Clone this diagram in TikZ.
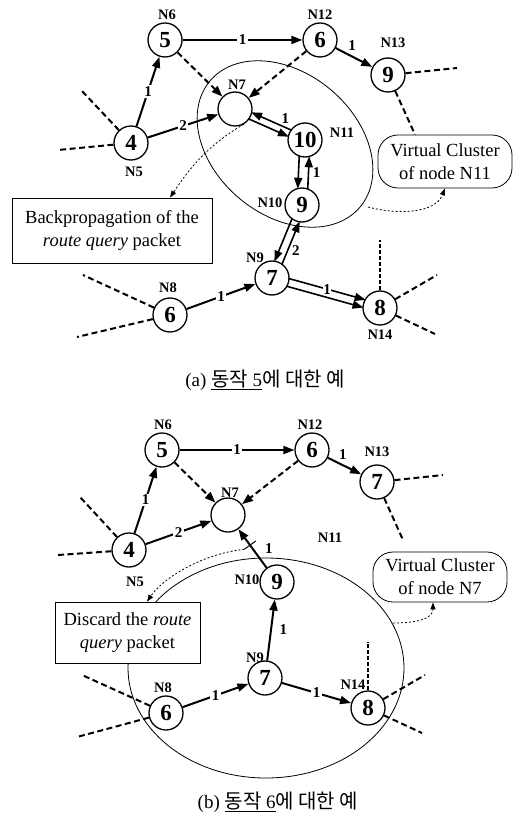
\documentclass[tikz,border=0pt]{standalone}
\usepackage{fontspec}
\setmainfont{Liberation Serif}
\newfontfamily\krfont{Noto Sans CJK KR}
\newcommand\krs{\krfont\fontsize{20}{22}\selectfont}
\usetikzlibrary{arrows.meta,calc}
\begin{document}
\begin{tikzpicture}[x=1pt,y=-1pt,
  nd/.style={circle,draw,line width=1.3pt,minimum size=34pt,inner sep=0pt,font=\fontsize{23}{23}\bfseries\selectfont},
  nl/.style={font=\fontsize{14.5}{14.5}\bfseries\selectfont,inner sep=0pt},
  el/.style={font=\fontsize{15}{15}\bfseries\selectfont,inner sep=1.5pt,fill=white},
  tip/.style={-{Triangle[length=11pt,width=8pt]}},
  sol/.style={line width=2pt,tip},
  dsh/.style={line width=2pt,dash pattern=on 6pt off 3.5pt},
  fdsh/.style={line width=1.6pt,dash pattern=on 4pt off 2pt},
  dsharr/.style={dsh,tip},
  dbl/.style={line width=1.6pt,tip,shorten <=16pt,shorten >=16pt},
  dotarr/.style={line width=0.8pt,dash pattern=on 2pt off 2pt,-{Triangle[length=7pt,width=5pt]}},
  txtbox/.style={draw,line width=0.8pt,fill=white,align=center,font=\fontsize{18.5}{23}\selectfont},
  vcbox/.style={draw,line width=0.8pt,fill=white,rounded corners=20pt,align=center,font=\fontsize{18.5}{23}\selectfont},
  captxt/.style={font=\fontsize{19}{21}\selectfont,inner sep=0pt}
]
\useasboundingbox (0,0) rectangle (517,818);

% ================= (a) =================
\draw[line width=0.8pt,rotate around={-40:(285,144)}] (285,144) ellipse [x radius=98, y radius=71];

\node[nd] (a4) at (131,143) {4};
\node[nd] (a5) at (165,40) {5};
\node[nd] (a7) at (235,109) {};
\node[nd] (a12) at (320,40) {6};
\node[nd] (a13) at (388,75) {9};
\node[nd] (a11) at (305,140) {10};
\node[nd] (a10) at (302,205) {9};
\node[nd] (a9) at (272,278) {7};
\node[nd] (a8) at (170,315) {6};
\node[nd] (a14) at (380,308) {8};

\node[nl] (la5) at (134,172) {N5};
\node[nl] (la6) at (167,15) {N6};
\node[nl] (la7) at (237,85) {N7};
\node[nl] (la12) at (320,15) {N12};
\node[nl] (la13) at (393,43) {N13};
\node[nl] (la11) at (342,133) {N11};
\node[nl] (la10) at (270,203) {N10};
\node[nl] (la9) at (255,258) {N9};
\node[nl] (la8) at (168,288) {N8};
\node[nl] (la14) at (380,335) {N14};

\node[txtbox, minimum width=200pt, minimum height=65pt] (bp) at (112,230.5) {Backpropagation of the\\\textit{route query} packet};
\node[vcbox, minimum width=134pt, minimum height=53pt] (vcA) at (445,161.5) {Virtual Cluster\\of node N11};

\draw[sol] (a4) -- node[el]{1} (a5);
\draw[sol] (a4) -- node[el]{2} (a7);
\draw[sol] (a5) -- node[el]{1} (a12);
\draw[sol] (a12) -- node[el,fill=none,above=4pt,pos=0.45]{1} (a13);
\draw[dsharr] (a5) -- (a7);
\draw[dsharr] (a12) -- (a7);

\draw[dbl] ($(a11)!3.5pt!-90:(a7)$) -- node[el,fill=none,pos=0.3,above=2pt]{1} ($(a7)!3.5pt!90:(a11)$);
\draw[dbl] ($(a7)!3.5pt!-90:(a11)$) -- ($(a11)!3.5pt!90:(a7)$);
\draw[dbl] ($(a10)!5pt!-90:(a11)$) -- node[el,fill=none,right=2pt,pos=0.5]{1} ($(a11)!5pt!90:(a10)$);
\draw[dbl] ($(a11)!5pt!-90:(a10)$) -- ($(a10)!5pt!90:(a11)$);
\draw[dbl] ($(a9)!4pt!-90:(a10)$) -- node[el,fill=none,right=2pt,pos=0.4]{2} ($(a10)!4pt!90:(a9)$);
\draw[dbl] ($(a10)!4pt!-90:(a9)$) -- ($(a9)!4pt!90:(a10)$);
\draw[dbl] ($(a9)!4pt!90:(a14)$) -- node[el,pos=0.5,inner sep=0.5pt]{1} ($(a14)!4pt!-90:(a9)$);
\draw[dbl] ($(a9)!4pt!-90:(a14)$) -- ($(a14)!4pt!90:(a9)$);

\draw[sol] (a8) -- node[el]{1} (a9);

\coordinate (sa1) at (81,90);
\coordinate (sa2) at (58,150);
\coordinate (sa3) at (457,68);
\coordinate (vcAt) at ([xshift=-30pt]vcA.north);
\coordinate (sa4) at (380,240);
\coordinate (sa5) at (437,275);
\coordinate (sa6) at (435,334);
\coordinate (sa7) at (83,275);
\coordinate (sa8) at (77,337);
\draw[dsh] (a4) -- (sa1);
\draw[dsh] (a4) -- (sa2);
\draw[dsh] (a13) -- (sa3);
\draw[dsh] (a13) -- (vcAt);
\draw[fdsh] (a14) -- (sa4);
\draw[dsh] (a14) -- (sa5);
\draw[dsh] (a14) -- (sa6);
\draw[dsh] (a8) -- (sa7);
\draw[dsh] (a8) -- (sa8);

\draw[dotarr] (a7.-60) .. controls +(-35,20) and +(20,-30) .. ([xshift=58pt]bp.north);
\coordinate (ea) at (368,207);
\draw[dotarr] (ea) .. controls +(30,8) and +(-10,25) .. (vcA.south);

\node[captxt] (capa) at (265,380) {(a) \underline{{\krs 동작} 5}{\krs 에 대한 예}};

% ================= (b) =================
\draw[line width=0.8pt] (266,668) ellipse [x radius=138, y radius=110];

\node[nd] (b4) at (129,550) {4};
\node[nd] (b5) at (162,450) {5};
\node[nd] (b7) at (228,515) {};
\node[nd] (b12) at (312,450) {6};
\node[nd] (b13) at (377,482) {7};
\node[nd] (b10) at (277,582) {9};
\node[nd] (b9) at (265,678) {7};
\node[nd] (b8) at (166,713) {6};
\node[nd] (b14) at (368,708) {8};

\node[nl] (lb5) at (135,582) {N5};
\node[nl] (lb6) at (163,425) {N6};
\node[nl] (lb7) at (230,493) {N7};
\node[nl] (lb12) at (310,425) {N12};
\node[nl] (lb13) at (377,452) {N13};
\node[nl] (lb11) at (330,538) {N11};
\node[nl] (lb10) at (247,580) {N10};
\node[nl] (lb9) at (255,658) {N9};
\node[nl] (lb8) at (163,688) {N8};
\node[nl] (lb14) at (353,685) {N14};

\node[txtbox, minimum width=145pt, minimum height=61pt] (dc) at (127.5,632.5) {Discard the \textit{route}\\\textit{query} packet};
\node[vcbox, minimum width=134pt, minimum height=50pt] (vcB) at (440,577) {Virtual Cluster\\of node N7};

\draw[sol] (b4) -- node[el]{1} (b5);
\draw[sol] (b4) -- node[el]{2} (b7);
\draw[sol] (b5) -- node[el]{1} (b12);
\draw[sol] (b12) -- node[el,fill=none,above=3pt,pos=0.45]{1} (b13);
\draw[dsharr] (b5) -- (b7);
\draw[dsharr] (b12) -- (b7);
\draw[sol] (b10) -- node[el,fill=none,pos=0.5,right=10pt]{1} (b7);
\draw[sol] (b9) -- node[el,fill=none,right=6pt]{1} (b10);
\draw[sol] (b8) -- node[el]{1} (b9);
\draw[sol] (b9) -- node[el]{1} (b14);

\coordinate (tk) at ($(b10)!0.55!(b7)$);
\draw[line width=1pt] ($(tk)!7pt!90:(b7)$) -- ($(tk)!7pt!-90:(b7)$);
\draw[dotarr] ($(tk)!7pt!90:(b7)$) .. controls +(-45,5) and +(15,-22) .. ([xshift=19.5pt]dc.north);
\coordinate (eb) at (393,623);
\draw[dotarr] (eb) .. controls +(28,0) and +(0,15) .. ([xshift=-7pt]vcB.south);

\coordinate (sb1) at (80,497);
\coordinate (sb2) at (58,555);
\coordinate (sb3) at (443,475);
\coordinate (sb4) at (403,540);
\coordinate (sb5) at (368,642);
\coordinate (sb6) at (425,675);
\coordinate (sb7) at (422,733);
\coordinate (sb8) at (82,675);
\coordinate (sb9) at (77,737);
\draw[dsh] (b4) -- (sb1);
\draw[dsh] (b4) -- (sb2);
\draw[dsh] (b13) -- (sb3);
\draw[dsh] (b13) -- (sb4);
\draw[fdsh] (b14) -- (sb5);
\draw[dsh] (b14) -- (sb6);
\draw[dsh] (b14) -- (sb7);
\draw[dsh] (b8) -- (sb8);
\draw[dsh] (b8) -- (sb9);

\node[captxt] (capb) at (278,802) {(b) \underline{{\krs 동작} 6}{\krs 에 대한 예}};
\end{tikzpicture}
\end{document}
